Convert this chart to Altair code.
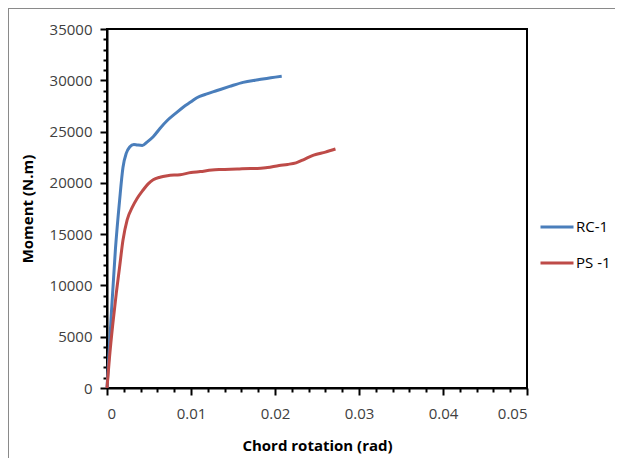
import altair as alt
import pandas as pd

rc_x = [0.0, 0.0005, 0.0010, 0.0015, 0.0019, 0.0023, 0.0027, 0.0032, 0.0036, 0.0042, 0.0048, 0.0055,
        0.0063, 0.0072, 0.0082, 0.0091, 0.0100, 0.0107, 0.0118, 0.0131, 0.0146, 0.0162, 0.0180, 0.0195, 0.0208]
rc_y = [0, 7000, 13500, 18300, 21500, 22900, 23500, 23750, 23700, 23650, 24000, 24500,
        25300, 26100, 26800, 27400, 27900, 28300, 28650, 29000, 29400, 29800, 30050, 30250, 30400]

ps_x = [0.0, 0.0003, 0.0007, 0.0011, 0.0015, 0.0019, 0.0024, 0.0030, 0.0036, 0.0043, 0.0049, 0.0055,
        0.0063, 0.0072, 0.0087, 0.0100, 0.0111, 0.0125, 0.0135, 0.0155, 0.0171, 0.0179, 0.0191, 0.0205,
        0.0215, 0.0225, 0.0235, 0.0246, 0.0260, 0.0272]
ps_y = [0, 3000, 6300, 9200, 11800, 14400, 16400, 17600, 18500, 19300, 19900, 20300,
        20550, 20700, 20800, 21000, 21100, 21250, 21300, 21350, 21400, 21400, 21500, 21700,
        21800, 21950, 22300, 22700, 23000, 23300]

series_names = ["RC-1", "PS -1"]
colors = ["#4A7EBB", "#BE4B48"]

df = pd.concat([
    pd.DataFrame({"x": rc_x, "y": rc_y, "s": series_names[0], "o": range(len(rc_x))}),
    pd.DataFrame({"x": ps_x, "y": ps_y, "s": series_names[1], "o": range(len(ps_x))}),
])

x_ticks = [round(i * 0.002, 3) for i in range(26)]
y_ticks = [i * 1000 for i in range(36)]

FONT = "Open Sans"

lines = alt.Chart(df).mark_line(strokeWidth=3, interpolate="monotone").encode(
    x=alt.X("x:Q", scale=alt.Scale(domain=[0, 0.05], nice=False),
            axis=alt.Axis(title="Chord rotation (rad)", values=x_ticks,
                          labelExpr="abs(datum.value*100 - round(datum.value*100)) < 1e-6 ? (datum.value == 0 ? '0' : format(datum.value, '.2f')) : ''",
                          tickSize={"condition": {"test": "abs(datum.value*100 - round(datum.value*100)) < 1e-6", "value": 7}, "value": 4},
                          labelPadding=11, titlePadding=17)),
    y=alt.Y("y:Q", scale=alt.Scale(domain=[0, 35000], nice=False),
            axis=alt.Axis(title="Moment (N.m)", values=y_ticks,
                          labelExpr="datum.value % 5000 === 0 ? datum.value : ''",
                          tickSize={"condition": {"test": "datum.value % 5000 === 0", "value": 7}, "value": 4},
                          labelPadding=8, titlePadding=14)),
    color=alt.Color("s:N", scale=alt.Scale(domain=series_names, range=colors),
                    legend=alt.Legend(title=None, orient="none", legendX=432, legendY=180,
                                      symbolType="stroke", symbolSize=1089, symbolStrokeWidth=3,
                                      labelFontSize=15, labelFont=FONT, labelColor="#000000",
                                      rowPadding=10, labelOffset=1, padding=0)),
    order="o:Q",
)

border_left = alt.Chart(df).mark_rule(color="#8a8a8a", strokeWidth=1).encode(
    x=alt.value(-98.5), y=alt.value(-20.5), y2=alt.value(440)
)
border_top = alt.Chart(df).mark_rule(color="#8a8a8a", strokeWidth=1).encode(
    x=alt.value(-98.5), x2=alt.value(520), y=alt.value(-20.5)
)

chart = alt.layer(border_left, border_top, lines).properties(
    width=420, height=359,
    autosize=alt.AutoSizeParams(type="none"),
    padding={"left": 99, "top": 21, "right": 88, "bottom": 70},
).configure_view(
    stroke="#000000", strokeWidth=2
).configure_axis(
    domainColor="#000000", domainWidth=2, tickColor="#000000", tickWidth=2,
    grid=False, labelFont=FONT, labelFontSize=15, labelColor="#404040",
    titleFont=FONT, titleFontSize=15, titleFontWeight="bold", titleColor="#000000",
)

chart.save("out.html", embed_options={"renderer": "svg", "actions": False})
